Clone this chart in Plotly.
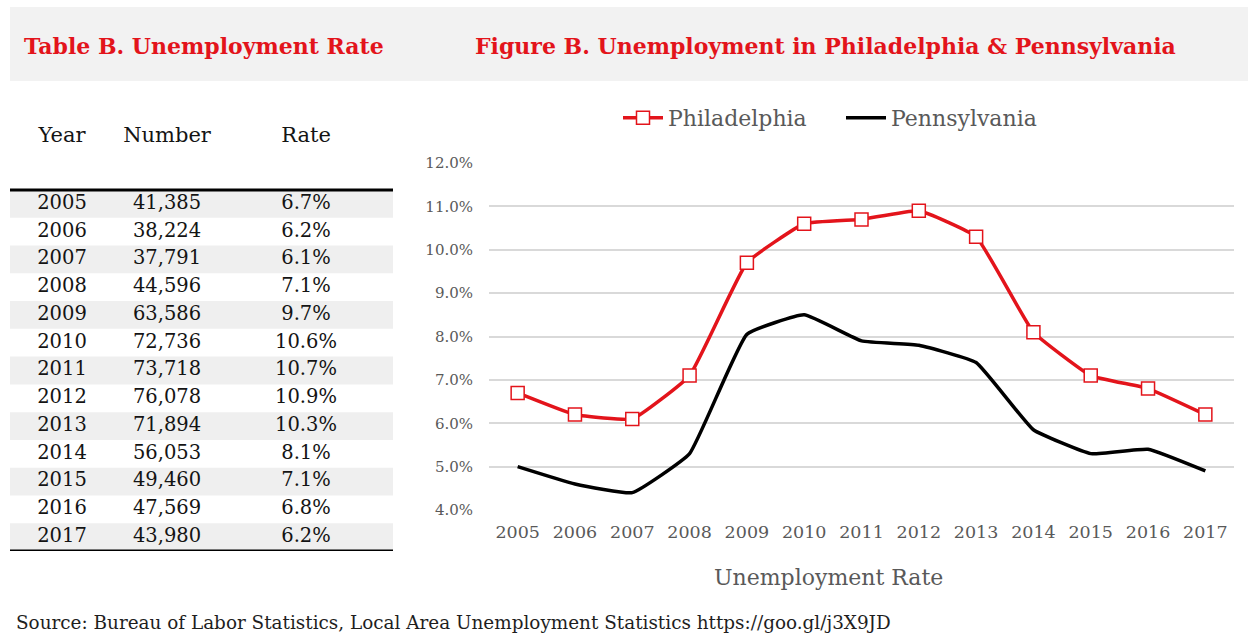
import plotly.graph_objects as go

years = ["2005", "2006", "2007", "2008", "2009", "2010", "2011", "2012", "2013", "2014", "2015", "2016", "2017"]
numbers = ["41,385", "38,224", "37,791", "44,596", "63,586", "72,736", "73,718", "76,078", "71,894", "56,053", "49,460", "47,569", "43,980"]
rates_label = ["6.7%", "6.2%", "6.1%", "7.1%", "9.7%", "10.6%", "10.7%", "10.9%", "10.3%", "8.1%", "7.1%", "6.8%", "6.2%"]
philadelphia = [6.7, 6.2, 6.1, 7.1, 9.7, 10.6, 10.7, 10.9, 10.3, 8.1, 7.1, 6.8, 6.2]
pennsylvania = [5.0, 4.6, 4.4, 5.3, 8.05, 8.5, 7.9, 7.8, 7.4, 5.85, 5.3, 5.4, 4.9]
table_headers = ["Year", "Number", "Rate"]

W, H = 1248, 634
RED = "#e3141b"
GRAY_TXT = "#595959"
SERIF = "DejaVu Serif"

def py(px):
    return 1 - px / H

def pxx(px):
    return px / W

fig = go.Figure()

# Chart lines
fig.add_trace(go.Scatter(
    x=years, y=philadelphia, name="Philadelphia", mode="lines+markers",
    line=dict(color=RED, width=3.5, shape="spline", smoothing=0.35),
    marker=dict(symbol="square", size=13, color="white", line=dict(color=RED, width=1.5)),
    xaxis="x", yaxis="y",
))
fig.add_trace(go.Scatter(
    x=years, y=pennsylvania, name="Pennsylvania", mode="lines",
    line=dict(color="black", width=3.5, shape="spline", smoothing=0.35),
    xaxis="x", yaxis="y",
))

# Table (on its own hidden axes)
n = len(years)
col_x = [52, 157, 296]
rows = list(range(n))
row_y = [i + 0.5 for i in rows]
for cx, col in zip(col_x, [years, numbers, rates_label]):
    fig.add_trace(go.Scatter(
        x=[cx] * n, y=row_y, text=col, mode="text", textposition="middle center",
        textfont=dict(family=SERIF, size=19.5, color="#141414"),
        xaxis="x2", yaxis="y2", showlegend=False, hoverinfo="skip",
    ))
fig.add_trace(go.Scatter(
    x=col_x, y=[-1.9] * 3, text=table_headers, mode="text", textposition="middle center",
    textfont=dict(family=SERIF, size=21, color="#141414"),
    xaxis="x2", yaxis="y2", showlegend=False, hoverinfo="skip",
))

shapes = []
# header gray band
shapes.append(dict(type="rect", xref="paper", yref="paper", x0=pxx(10), x1=1, y0=py(81), y1=py(7),
                   fillcolor="#f2f2f2", line=dict(width=0), layer="below"))
# shaded rows
for i in rows:
    if i % 2 == 0:
        shapes.append(dict(type="rect", xref="x2", yref="y2", x0=0, x1=383, y0=i, y1=i + 1,
                           fillcolor="#efefef", line=dict(width=0), layer="below"))
shapes.append(dict(type="line", xref="x2", yref="y2", x0=0, x1=383, y0=0, y1=0,
                   line=dict(color="black", width=3)))
shapes.append(dict(type="line", xref="x2", yref="y2", x0=0, x1=383, y0=n, y1=n,
                   line=dict(color="black", width=3)))

annotations = [
    dict(text="Table B. Unemployment Rate", xref="paper", yref="paper", x=pxx(22), y=py(46),
         xanchor="left", yanchor="middle", showarrow=False,
         font=dict(family=SERIF, size=22, color=RED, weight="bold")),
    dict(text="Figure B. Unemployment in Philadelphia &amp; Pennsylvania", xref="paper", yref="paper",
         x=pxx(825), y=py(46), xanchor="center", yanchor="middle", showarrow=False,
         font=dict(family=SERIF, size=22, color=RED, weight="bold")),
    dict(text="Unemployment Rate", xref="paper", yref="paper", x=pxx(828), y=py(577),
         xanchor="center", yanchor="middle", showarrow=False,
         font=dict(family=SERIF, size=22, color=GRAY_TXT)),
    dict(text="Source: Bureau of Labor Statistics, Local Area Unemployment Statistics https://goo.gl/j3X9JD",
         xref="paper", yref="paper", x=pxx(14), y=py(622), xanchor="left", yanchor="middle",
         showarrow=False, font=dict(family=SERIF, size=18.4, color="#1e1e1e")),
]

fig.update_layout(
    width=W, height=H,
    margin=dict(l=0, r=0, t=0, b=0, autoexpand=False),
    paper_bgcolor="white", plot_bgcolor="white",
    shapes=shapes, annotations=annotations,
    showlegend=True,
    legend=dict(orientation="h", x=pxx(618), y=py(118), xanchor="left", yanchor="middle",
                font=dict(family=SERIF, size=22, color=GRAY_TXT), bgcolor="rgba(0,0,0,0)",
                itemwidth=40, tracegroupgap=0, entrywidth=168, entrywidthmode="pixels"),
    xaxis=dict(domain=[pxx(489), pxx(1234)], type="category", range=[-0.5, 12.5],
               showgrid=False, zeroline=False,
               showline=False, ticks="", tickfont=dict(family=SERIF, size=17.5, color=GRAY_TXT),
               ticklabelstandoff=9, automargin=False, fixedrange=True),
    yaxis=dict(domain=[py(510), py(163)], range=[4, 12], dtick=1, tickformat=".1f", ticksuffix="%",
               showgrid=True, gridcolor="#d9d9d9", gridwidth=1.5, zeroline=False, showline=False,
               ticks="", tickfont=dict(family=SERIF, size=15, color=GRAY_TXT), ticklabelstandoff=15,
               automargin=False, fixedrange=True),
    xaxis2=dict(domain=[pxx(10), pxx(393)], range=[0, 383], visible=False, anchor="y2",
                automargin=False, fixedrange=True),
    yaxis2=dict(domain=[py(551), py(190 - 3 * (551 - 190) / 13)], range=[n, -3], visible=False,
                anchor="x2", automargin=False, fixedrange=True),
)

fig.write_html("out.html", config={"displayModeBar": False},
               post_script="document.body.style.margin='0px';")
